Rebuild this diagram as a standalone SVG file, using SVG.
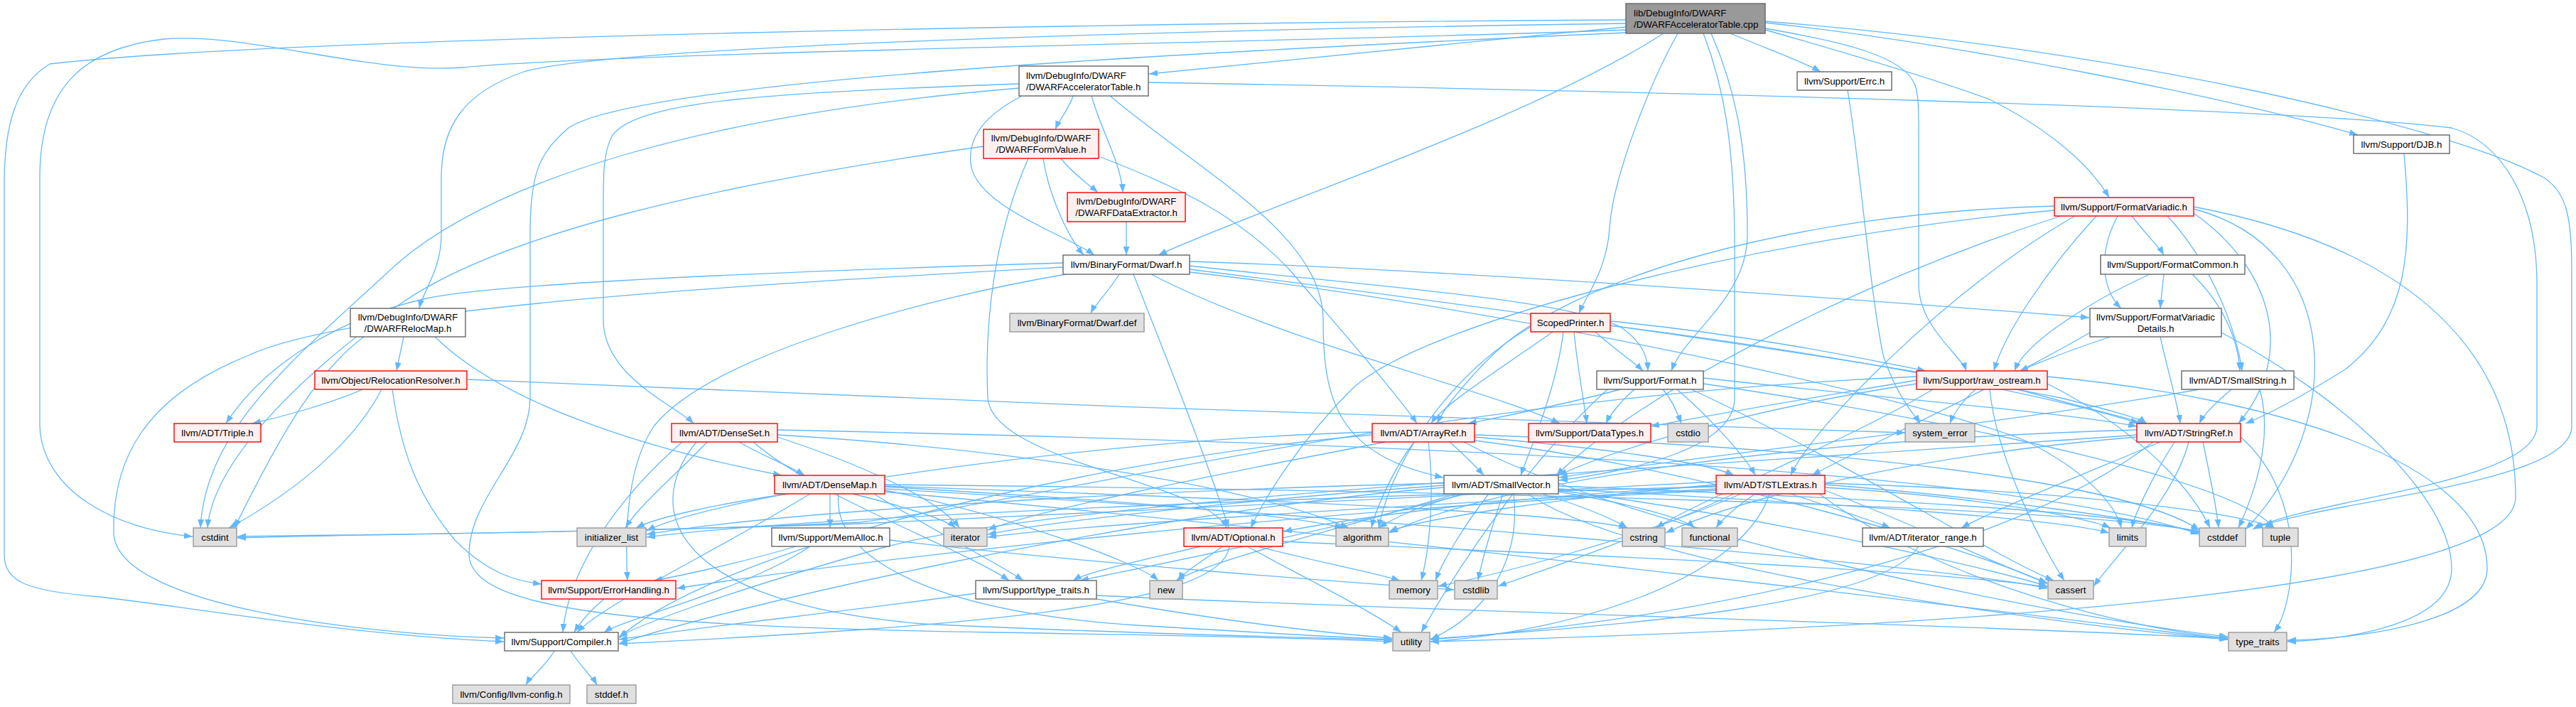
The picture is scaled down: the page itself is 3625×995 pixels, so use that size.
<svg xmlns="http://www.w3.org/2000/svg" width="3625" height="995" viewBox="0 0 3625 995">
<defs>
<marker id="a" markerUnits="userSpaceOnUse" markerWidth="13" markerHeight="10" refX="12" refY="5" orient="auto"><path d="M0,0.5 L12,5 L0,9.5z" fill="#63b8ff"/></marker>
<style>
text{font-family:"Liberation Sans",Arial,sans-serif;font-size:13.3px;fill:#000}
.c{text-anchor:middle}
.w rect{fill:#fff;stroke:#666;stroke-width:1.4}
.g rect{fill:#e0e0e0;stroke:#999;stroke-width:1.4}
.r rect{fill:#fff0f0;stroke:#f00;stroke-width:1.4}
.k rect{fill:#999;stroke:#666;stroke-width:1.4}
#edges path{fill:none;stroke:#63b8ff;stroke-width:1.3;marker-end:url(#a)}
</style>
</defs>
<rect width="3625" height="995" fill="#fff"/>
<g id="edges">
<path d="M2288,38 C2050,60 1800,88 1617,104"/>
<path d="M2397,47 C2425,120 2441,200 2441,350 L2441,560 C2441,630 2300,662 2194,676"/>
<path d="M2341,47 C2150,170 1780,290 1630,359"/>
<path d="M2288,33 C1800,40 900,60 740,100 C650,130 621,180 621,250 L621,330 C621,380 595,410 590,434"/>
<path d="M2288,28 C1600,32 400,52 70,90 C20,120 6,180 6,260 L6,780 C6,820 40,832 140,840 C250,852 500,895 709,903"/>
<path d="M2288,42 C1900,58 900,72 650,95 C520,105 350,45 230,55 C120,68 56,120 56,250 L56,600 C60,690 160,745 271,755"/>
<path d="M2288,46 C1700,72 900,112 800,180 C760,215 746,240 746,330 L746,560 C746,640 660,700 660,780 C660,860 900,882 1400,890 C1700,895 1900,900 1959,903"/>
<path d="M2484,32 C2750,60 3150,140 3318,190"/>
<path d="M2435,47 C2490,70 2540,88 2562,101"/>
<path d="M2408,47 C2440,120 2459,200 2459,330 C2459,420 2370,470 2352,522"/>
<path d="M2484,42 C2600,75 2720,110 2800,140 C2880,180 2940,230 2968,278"/>
<path d="M2361,47 C2320,120 2270,250 2265,320 C2262,380 2230,420 2222,441"/>
<path d="M2484,40 C2600,60 2680,80 2695,120 C2700,135 2700,150 2700,200 L2700,400 C2700,460 2760,500 2767,522"/>
<path d="M2484,30 C3000,70 3450,180 3580,250 C3610,270 3619,300 3619,380 L3619,600 C3619,680 3300,700 3172,743"/>
<path d="M1510,135 C1505,152 1490,170 1485,182"/>
<path d="M1536,135 C1548,180 1578,230 1580,271"/>
<path d="M1438,135 C1390,160 1362,190 1366,230 C1372,290 1500,330 1540,359"/>
<path d="M1434,118 C1100,130 900,140 862,190 C848,215 849,250 849,300 L849,450 C849,530 950,570 976,596"/>
<path d="M1434,124 C1000,160 700,250 560,370 C420,500 290,600 282,743"/>
<path d="M1562,135 C1700,250 1860,330 1862,450 C1862,560 1880,640 2031,672"/>
<path d="M1616,116 C2300,128 3200,150 3450,180 C3520,200 3570,280 3570,400 L3570,600 C3570,680 3250,702 3170,745"/>
<path d="M1493,223 C1510,245 1535,262 1545,271"/>
<path d="M1468,223 C1475,270 1500,330 1525,359"/>
<path d="M1447,223 C1400,330 1385,450 1390,560 C1395,650 1700,680 1726,743"/>
<path d="M1546,220 C1650,260 1740,300 1815,380 C1900,480 1970,560 1994,596"/>
<path d="M1384,206 C1000,260 700,330 560,430 C420,530 300,650 292,743"/>
<path d="M1585,312 L1585,359"/>
<path d="M1575,386 C1560,410 1540,430 1535,441"/>
<path d="M1496,370 C1100,382 700,398 600,420 C500,442 380,500 318,596"/>
<path d="M1496,376 C1100,398 500,430 350,500 C200,560 158,650 160,750 C162,850 500,893 709,898"/>
<path d="M1500,386 C1300,420 1000,500 920,600 C880,660 880,760 883,817"/>
<path d="M1595,386 C1640,500 1700,650 1729,743"/>
<path d="M1620,386 C1800,480 2100,550 2195,596"/>
<path d="M1674,374 C1900,400 2200,420 2280,460 C2310,480 2318,500 2319,522"/>
<path d="M1674,368 C2000,378 2600,420 2940,447"/>
<path d="M1674,379 C2000,420 2600,500 2900,560 C2960,575 3010,588 3021,596"/>
<path d="M1674,383 C2100,430 2700,560 2850,620 C2950,670 2980,720 2985,743"/>
<path d="M568,474 L558,522"/>
<path d="M612,474 C720,580 950,640 1100,669"/>
<path d="M512,474 C450,520 400,600 330,743"/>
<path d="M510,548 C460,570 390,588 355,596"/>
<path d="M537,548 C500,620 420,690 322,743"/>
<path d="M552,548 C565,640 590,700 640,760 C690,810 730,818 762,822"/>
<path d="M657,534 C1200,560 2300,600 2681,609"/>
<path d="M1040,622 C1070,640 1110,655 1132,669"/>
<path d="M995,622 C960,660 900,710 880,743"/>
<path d="M1094,615 C1200,650 1320,700 1350,743"/>
<path d="M1094,612 C1400,630 1750,680 1898,743"/>
<path d="M1094,605 C1800,620 2800,650 3095,752"/>
<path d="M1060,622 C1150,700 1350,770 1420,817"/>
<path d="M980,622 C900,720 950,850 1300,878 C1600,893 1900,898 1959,901"/>
<path d="M960,622 C870,700 800,800 792,890"/>
<path d="M1168,695 L1168,743"/>
<path d="M1110,695 C1000,710 920,730 895,743"/>
<path d="M1200,695 C1260,710 1330,730 1345,743"/>
<path d="M1230,695 C1300,740 1400,790 1440,817"/>
<path d="M1245,690 C1400,720 1600,790 1630,817"/>
<path d="M1245,685 C1500,700 1800,720 1890,743"/>
<path d="M1245,688 C1800,720 2700,790 2881,828"/>
<path d="M1245,682 C2000,690 2900,710 3095,748"/>
<path d="M1245,684 C1700,700 2200,720 2290,743"/>
<path d="M1245,692 C2000,760 2900,870 3135,900"/>
<path d="M1180,695 C1170,780 1300,860 1600,880 C1800,892 1900,898 1959,900"/>
<path d="M1140,695 C1000,780 850,850 812,890"/>
<path d="M1120,769 C1050,790 960,810 920,817"/>
<path d="M1140,769 C1050,830 880,870 850,890"/>
<path d="M1252,760 C1500,790 1900,820 2046,830"/>
<path d="M2185,467 C2110,520 2030,570 2014,596"/>
<path d="M2200,467 C2190,550 2150,640 2140,669"/>
<path d="M2215,467 C2220,520 2230,570 2233,596"/>
<path d="M2245,467 C2270,490 2300,510 2312,522"/>
<path d="M2266,452 C2450,470 2600,500 2710,522"/>
<path d="M2154,460 C2050,520 1960,640 1940,743"/>
<path d="M2266,458 C2600,500 2900,560 3010,596"/>
<path d="M2280,548 C2200,570 2120,585 2066,596"/>
<path d="M2300,548 C2280,565 2265,585 2260,596"/>
<path d="M2340,548 C2355,565 2362,585 2366,596"/>
<path d="M2397,532 C2650,560 2900,580 3007,600"/>
<path d="M2360,548 C2420,600 2460,650 2470,669"/>
<path d="M2380,548 C2600,650 2800,780 2890,817"/>
<path d="M2397,540 C2800,600 3150,680 3200,743"/>
<path d="M2262,548 C2150,650 2050,800 2000,890"/>
<path d="M3000,304 C3020,330 3040,350 3045,359"/>
<path d="M2980,304 C2950,360 2960,410 2985,434"/>
<path d="M2950,304 C2880,380 2820,470 2806,522"/>
<path d="M3050,304 C3120,380 3150,480 3155,522"/>
<path d="M3087,300 C3200,380 3230,500 3150,596"/>
<path d="M2891,290 C2500,300 2200,400 2100,500 C2050,550 2030,580 2022,596"/>
<path d="M2891,296 C2500,330 2000,450 1900,550 C1830,620 1780,700 1760,743"/>
<path d="M2920,304 C2750,400 2550,600 2520,669"/>
<path d="M2900,304 C2600,400 2300,560 2190,669"/>
<path d="M3087,294 C3300,350 3300,600 3160,745"/>
<path d="M3087,291 C3400,350 3540,500 3540,700 C3540,850 2500,890 2013,903"/>
<path d="M3045,386 C3043,405 3041,420 3040,434"/>
<path d="M3025,386 C2950,420 2850,480 2835,522"/>
<path d="M3085,386 C3130,430 3150,480 3152,522"/>
<path d="M2970,474 C2920,490 2870,510 2842,522"/>
<path d="M3040,474 C3050,520 3065,570 3068,596"/>
<path d="M2941,468 C2800,550 2600,640 2550,669"/>
<path d="M3126,468 C3300,560 3450,700 3450,800 C3450,880 3300,900 3219,903"/>
<path d="M2780,548 C2760,565 2748,585 2744,596"/>
<path d="M2840,548 C2900,565 2980,585 3020,596"/>
<path d="M2697,540 C2500,570 2300,620 2193,669"/>
<path d="M2697,535 C2550,560 2400,585 2323,600"/>
<path d="M2800,548 C2810,650 2880,780 2905,817"/>
<path d="M2881,540 C3000,600 3080,680 3110,743"/>
<path d="M2697,530 C2000,560 1500,700 1210,735 C900,750 500,752 334,755"/>
<path d="M2720,548 C2600,620 2400,700 2330,743"/>
<path d="M2881,530 C3200,560 3500,650 3500,800 C3500,880 3300,900 3219,901"/>
<path d="M3140,548 C3120,565 3100,585 3095,596"/>
<path d="M3095,548 C2800,600 2400,640 2194,672"/>
<path d="M3180,548 C3200,620 3170,700 3150,743"/>
<path d="M3040,622 C2950,660 2800,720 2760,743"/>
<path d="M3007,612 C2500,650 1500,700 1245,770 C1000,840 900,880 871,896"/>
<path d="M3007,605 C2500,620 2100,680 1955,750"/>
<path d="M3080,622 C3060,700 2980,780 2946,825"/>
<path d="M3100,622 C3110,670 3120,720 3122,743"/>
<path d="M3007,615 C2700,640 2450,700 2344,750"/>
<path d="M3060,622 C3030,670 3005,720 3000,743"/>
<path d="M3153,615 C3250,700 3230,850 3200,890"/>
<path d="M3030,622 C2800,800 2300,880 2013,900"/>
<path d="M2032,686 C1600,720 1000,860 871,906"/>
<path d="M2060,695 C1900,740 1650,790 1520,817"/>
<path d="M2062,695 C2000,710 1960,730 1940,743"/>
<path d="M2193,690 C2500,730 2800,800 2881,825"/>
<path d="M2193,684 C2600,700 3000,720 3095,750"/>
<path d="M2115,695 C2100,740 2085,790 2080,817"/>
<path d="M2170,695 C2220,710 2270,730 2290,743"/>
<path d="M2193,692 C2300,710 2370,730 2385,743"/>
<path d="M2032,680 C1600,690 1100,720 910,752"/>
<path d="M2032,683 C1800,700 1500,730 1390,752"/>
<path d="M2193,688 C2600,710 2900,730 2968,750"/>
<path d="M2095,695 C2060,740 2030,790 2020,817"/>
<path d="M2050,695 C1900,740 1700,790 1655,817"/>
<path d="M2150,695 C2300,800 2900,880 3135,900"/>
<path d="M2130,695 C2140,780 2100,860 2013,900"/>
<path d="M2520,695 C2580,715 2640,735 2660,743"/>
<path d="M2415,690 C1800,720 1200,790 952,828"/>
<path d="M2415,682 C2200,700 2000,730 1955,748"/>
<path d="M2568,690 C2700,740 2820,800 2881,820"/>
<path d="M2568,682 C2800,700 3000,730 3095,748"/>
<path d="M2415,678 C2000,700 1400,730 1210,737 C900,748 500,752 334,757"/>
<path d="M2440,695 C2300,760 2150,810 2108,825"/>
<path d="M2470,695 C2440,715 2420,735 2415,743"/>
<path d="M2415,685 C1800,700 1100,730 910,756"/>
<path d="M2415,688 C2000,710 1500,740 1390,756"/>
<path d="M2568,686 C2800,700 2940,730 2970,743"/>
<path d="M2450,695 C2300,760 2100,810 2024,825"/>
<path d="M2568,680 C2900,690 3150,720 3200,743"/>
<path d="M2560,695 C2700,800 2950,880 3135,898"/>
<path d="M2490,695 C2450,820 2200,890 2013,903"/>
<path d="M2415,684 C2100,700 1900,730 1806,748"/>
<path d="M2040,622 C2060,640 2080,660 2088,669"/>
<path d="M2075,615 C2250,630 2400,650 2440,669"/>
<path d="M1931,612 C1500,650 1000,780 871,898"/>
<path d="M1990,622 C1960,660 1935,720 1930,743"/>
<path d="M2075,620 C2400,660 2800,780 2881,822"/>
<path d="M2075,612 C2600,630 3000,680 3095,746"/>
<path d="M1931,608 C1500,620 1000,700 910,747"/>
<path d="M1950,622 C1700,670 1450,720 1390,746"/>
<path d="M2010,622 C2020,700 2010,780 2000,817"/>
<path d="M2060,622 C2300,750 2900,870 3135,896"/>
<path d="M1690,769 C1600,790 1530,805 1510,817"/>
<path d="M1720,769 C1700,785 1665,805 1658,817"/>
<path d="M1770,769 C1850,790 1930,805 1970,817"/>
<path d="M1755,769 C1830,810 1930,860 1972,890"/>
<path d="M1805,762 C2200,780 2700,800 2881,826"/>
<path d="M1730,769 C1720,850 1400,880 871,906"/>
<path d="M1373,835 C1200,860 1000,880 871,900"/>
<path d="M1543,838 C2000,860 2800,880 3135,899"/>
<path d="M1543,843 C1700,870 1850,890 1959,898"/>
<path d="M2700,769 C2650,850 2300,880 2013,899"/>
<path d="M850,843 C830,860 815,878 808,890"/>
<path d="M780,916 C770,935 745,955 740,964"/>
<path d="M803,916 C815,935 835,955 840,964"/>
<path d="M3383,216 C3395,350 3390,450 3300,520 C3220,570 3175,590 3160,596"/>
<path d="M2600,127 C2620,250 2630,400 2650,500 C2670,560 2695,585 2702,596"/>
</g>
<g id="n_root" class="k"><rect x="2288" y="5" width="196" height="42"/><text x="2299" y="22.5">lib/DebugInfo/DWARF</text><text x="2299" y="38.5">/DWARFAcceleratorTable.cpp</text></g>
<g id="n_acceltable" class="w"><rect x="1434" y="93" width="182" height="42"/><text x="1444" y="110.5">llvm/DebugInfo/DWARF</text><text x="1444" y="126.5">/DWARFAcceleratorTable.h</text></g>
<g id="n_errc" class="w"><rect x="2529" y="101" width="133" height="26"/><text class="c" x="2595.5" y="118.7">llvm/Support/Errc.h</text></g>
<g id="n_formvalue" class="r"><rect x="1384" y="182" width="162" height="41"/><text class="c" x="1465" y="199">llvm/DebugInfo/DWARF</text><text class="c" x="1465" y="215">/DWARFFormValue.h</text></g>
<g id="n_djb" class="w"><rect x="3312" y="190" width="135" height="26"/><text class="c" x="3379.5" y="207.7">llvm/Support/DJB.h</text></g>
<g id="n_dataextractor" class="r"><rect x="1502" y="271" width="166" height="41"/><text class="c" x="1585" y="288">llvm/DebugInfo/DWARF</text><text class="c" x="1585" y="304">/DWARFDataExtractor.h</text></g>
<g id="n_formatvariadic" class="r"><rect x="2891" y="278" width="196" height="26"/><text class="c" x="2989" y="295.7">llvm/Support/FormatVariadic.h</text></g>
<g id="n_dwarf" class="w"><rect x="1496" y="359" width="178" height="27"/><text class="c" x="1585" y="377">llvm/BinaryFormat/Dwarf.h</text></g>
<g id="n_formatcommon" class="w"><rect x="2956" y="359" width="203" height="27"/><text class="c" x="3057.5" y="377">llvm/Support/FormatCommon.h</text></g>
<g id="n_relocmap" class="w"><rect x="493" y="434" width="162" height="40"/><text class="c" x="574" y="450.5">llvm/DebugInfo/DWARF</text><text class="c" x="574" y="466.5">/DWARFRelocMap.h</text></g>
<g id="n_dwarfdef" class="g"><rect x="1421" y="441" width="189" height="26"/><text class="c" x="1515.5" y="458.7">llvm/BinaryFormat/Dwarf.def</text></g>
<g id="n_scopedprinter" class="r"><rect x="2154" y="441" width="112" height="26"/><text class="c" x="2210" y="458.7">ScopedPrinter.h</text></g>
<g id="n_fvdetails" class="w"><rect x="2941" y="434" width="185" height="40"/><text class="c" x="3033.5" y="450.5">llvm/Support/FormatVariadic</text><text class="c" x="3033.5" y="466.5">Details.h</text></g>
<g id="n_relocresolver" class="r"><rect x="443" y="522" width="214" height="26"/><text class="c" x="550" y="539.7">llvm/Object/RelocationResolver.h</text></g>
<g id="n_format" class="w"><rect x="2247" y="522" width="150" height="26"/><text class="c" x="2322" y="539.7">llvm/Support/Format.h</text></g>
<g id="n_rawostream" class="r"><rect x="2697" y="522" width="184" height="26"/><text class="c" x="2789" y="539.7">llvm/Support/raw_ostream.h</text></g>
<g id="n_smallstring" class="w"><rect x="3070" y="522" width="158" height="26"/><text class="c" x="3149" y="539.7">llvm/ADT/SmallString.h</text></g>
<g id="n_triple" class="r"><rect x="245" y="596" width="122" height="26"/><text class="c" x="306" y="613.7">llvm/ADT/Triple.h</text></g>
<g id="n_denseset" class="r"><rect x="945" y="596" width="149" height="26"/><text class="c" x="1019.5" y="613.7">llvm/ADT/DenseSet.h</text></g>
<g id="n_arrayref" class="r"><rect x="1931" y="596" width="144" height="26"/><text class="c" x="2003" y="613.7">llvm/ADT/ArrayRef.h</text></g>
<g id="n_datatypes" class="r"><rect x="2151" y="596" width="172" height="26"/><text class="c" x="2237" y="613.7">llvm/Support/DataTypes.h</text></g>
<g id="n_cstdio" class="g"><rect x="2347" y="596" width="57" height="26"/><text class="c" x="2375.5" y="613.7">cstdio</text></g>
<g id="n_system_error" class="g"><rect x="2681" y="596" width="98" height="26"/><text class="c" x="2730" y="613.7">system_error</text></g>
<g id="n_stringref" class="r"><rect x="3007" y="596" width="146" height="26"/><text class="c" x="3080" y="613.7">llvm/ADT/StringRef.h</text></g>
<g id="n_densemap" class="r"><rect x="1090" y="669" width="155" height="26"/><text class="c" x="1167.5" y="686.7">llvm/ADT/DenseMap.h</text></g>
<g id="n_smallvector" class="w"><rect x="2032" y="669" width="161" height="26"/><text class="c" x="2112.5" y="686.7">llvm/ADT/SmallVector.h</text></g>
<g id="n_stlextras" class="r"><rect x="2415" y="669" width="153" height="26"/><text class="c" x="2491.5" y="686.7">llvm/ADT/STLExtras.h</text></g>
<g id="n_cstdint" class="g"><rect x="272" y="743" width="61" height="26"/><text class="c" x="302.5" y="760.7">cstdint</text></g>
<g id="n_initializer_list" class="g"><rect x="812" y="743" width="97" height="26"/><text class="c" x="860.5" y="760.7">initializer_list</text></g>
<g id="n_memalloc" class="w"><rect x="1086" y="743" width="166" height="26"/><text class="c" x="1169" y="760.7">llvm/Support/MemAlloc.h</text></g>
<g id="n_iterator" class="g"><rect x="1328" y="743" width="61" height="26"/><text class="c" x="1358.5" y="760.7">iterator</text></g>
<g id="n_optional" class="r"><rect x="1666" y="743" width="139" height="26"/><text class="c" x="1735.5" y="760.7">llvm/ADT/Optional.h</text></g>
<g id="n_algorithm" class="g"><rect x="1880" y="743" width="74" height="26"/><text class="c" x="1917" y="760.7">algorithm</text></g>
<g id="n_cstring" class="g"><rect x="2283" y="743" width="60" height="26"/><text class="c" x="2313" y="760.7">cstring</text></g>
<g id="n_functional" class="g"><rect x="2367" y="743" width="78" height="26"/><text class="c" x="2406" y="760.7">functional</text></g>
<g id="n_iterator_range" class="w"><rect x="2621" y="743" width="170" height="26"/><text class="c" x="2706" y="760.7">llvm/ADT/iterator_range.h</text></g>
<g id="n_limits" class="g"><rect x="2968" y="743" width="52" height="26"/><text class="c" x="2994" y="760.7">limits</text></g>
<g id="n_cstddef" class="g"><rect x="3095" y="743" width="65" height="26"/><text class="c" x="3127.5" y="760.7">cstddef</text></g>
<g id="n_tuple" class="g"><rect x="3184" y="743" width="50" height="26"/><text class="c" x="3209" y="760.7">tuple</text></g>
<g id="n_errorhandling" class="r"><rect x="762" y="817" width="189" height="26"/><text class="c" x="856.5" y="834.7">llvm/Support/ErrorHandling.h</text></g>
<g id="n_typetraits_h" class="w"><rect x="1373" y="817" width="170" height="26"/><text class="c" x="1458" y="834.7">llvm/Support/type_traits.h</text></g>
<g id="n_new" class="g"><rect x="1618" y="817" width="46" height="26"/><text class="c" x="1641" y="834.7">new</text></g>
<g id="n_memory" class="g"><rect x="1955" y="817" width="68" height="26"/><text class="c" x="1989" y="834.7">memory</text></g>
<g id="n_cstdlib" class="g"><rect x="2047" y="817" width="60" height="26"/><text class="c" x="2077" y="834.7">cstdlib</text></g>
<g id="n_cassert" class="g"><rect x="2882" y="817" width="64" height="26"/><text class="c" x="2914" y="834.7">cassert</text></g>
<g id="n_compiler" class="w"><rect x="710" y="890" width="160" height="26"/><text class="c" x="790" y="907.7">llvm/Support/Compiler.h</text></g>
<g id="n_utility" class="g"><rect x="1960" y="890" width="52" height="26"/><text class="c" x="1986" y="907.7">utility</text></g>
<g id="n_type_traits" class="g"><rect x="3136" y="890" width="82" height="26"/><text class="c" x="3177" y="907.7">type_traits</text></g>
<g id="n_llvmconfig" class="g"><rect x="637" y="964" width="165" height="26"/><text class="c" x="719.5" y="981.7">llvm/Config/llvm-config.h</text></g>
<g id="n_stddef" class="g"><rect x="826" y="964" width="69" height="26"/><text class="c" x="860.5" y="981.7">stddef.h</text></g>
</svg>
